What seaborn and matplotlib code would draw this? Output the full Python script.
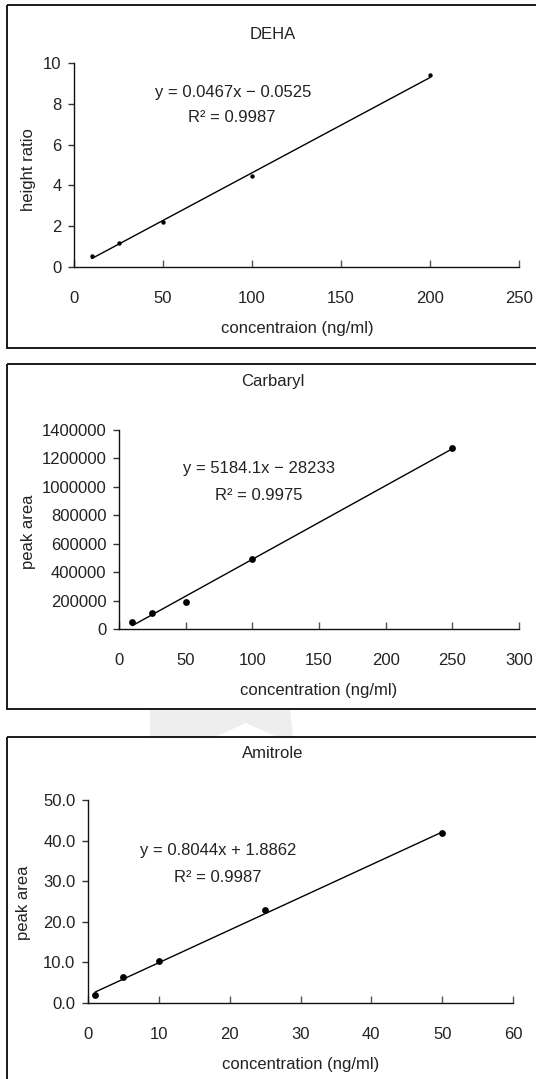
import numpy as np
import pandas as pd
import matplotlib
matplotlib.use("Agg")
import matplotlib.pyplot as plt
import seaborn as sns
from matplotlib.patches import Rectangle, Polygon
from matplotlib.transforms import Affine2D
from matplotlib.ticker import StrMethodFormatter

# ---------------- data ----------------
deha_conc = [10, 25, 50, 100, 200]
deha_ratio = [0.52, 1.18, 2.20, 4.45, 9.40]
deha_fit = [0.0467, -0.0525]

carb_conc = [10, 25, 50, 100, 250]
carb_area = [49000, 112000, 187000, 491000, 1276000]
carb_fit = [5184.1, -28233]

amit_conc = [1, 5, 10, 25, 50]
amit_area = [2.05, 6.48, 10.25, 22.8, 41.9]
amit_fit = [0.8044, 1.8862]

titles = ["DEHA", "Carbaryl", "Amitrole"]
xlabels = ["concentraion (ng/ml)", "concentration (ng/ml)", "concentration (ng/ml)"]
ylabels = ["height ratio", "peak area", "peak area"]
equations = ["y = 0.0467x \u2212 0.0525", "y = 5184.1x \u2212 28233", "y = 0.8044x + 1.8862"]
r2_texts = ["R\u00b2 = 0.9987", "R\u00b2 = 0.9975", "R\u00b2 = 0.9987"]

# ---------------- style ----------------
sns.set_style("ticks")
plt.rcParams['font.family'] = ['Liberation Sans', 'DejaVu Sans']
FS = 12
TXT = '#222222'

W, H = 536, 1079
fig = plt.figure(figsize=(W / 100, H / 100), dpi=100)
fig.patch.set_facecolor('white')
px = Affine2D().scale(1 / W, -1 / H).translate(0, 1) + fig.transFigure

# faint watermark fragment between panels
fig.add_artist(Polygon([(150, 709), (290, 709), (293, 737), (277, 737), (246, 723),
                        (215, 737), (150, 737)], closed=True, transform=px,
                       facecolor='#eeeeee', edgecolor='none', zorder=0))

# panel frames
for (y0, y1) in [(5, 348), (364, 709), (737, 1100)]:
    fig.add_artist(Rectangle((7, y0), 700, y1 - y0, transform=px, fill=False,
                             lw=1.4, ec='#1a1a1a', zorder=1))

panels = [
    dict(x=deha_conc, y=deha_ratio, fit=deha_fit, box=(74, 519, 267, 63),
         xlim=(0, 250), ylim=(0, 10), xt=np.arange(0, 251, 50), yt=np.arange(0, 11, 2),
         yfmt='{x:.0f}', s=10, title_px=(273, 43), eq_px=(233, 93), r2_px=(232, 118),
         xl_px=(297, 328), yl_px=(28, 170)),
    dict(x=carb_conc, y=carb_area, fit=carb_fit, box=(119, 519, 629, 430),
         xlim=(0, 300), ylim=(0, 1400000), xt=np.arange(0, 301, 50),
         yt=np.arange(0, 1400001, 200000), yfmt='{x:.0f}', s=24,
         title_px=(273, 390), eq_px=(259, 468), r2_px=(259, 495),
         xl_px=(319, 690), yl_px=(28, 532)),
    dict(x=amit_conc, y=amit_area, fit=amit_fit, box=(88, 513, 1003, 800),
         xlim=(0, 60), ylim=(0, 50), xt=np.arange(0, 61, 10), yt=np.arange(0, 51, 10),
         yfmt='{x:.1f}', s=24, title_px=(273, 762), eq_px=(218, 850), r2_px=(218, 877),
         xl_px=(301, 1065), yl_px=(24, 903)),
]

for i, p in enumerate(panels):
    l, r, b, t = p['box']
    ax = fig.add_axes([l / W, 1 - b / H, (r - l) / W, (b - t) / H])
    ax.set_facecolor('none')
    xs = np.array([min(p['x']), max(p['x'])], dtype=float)
    ys = p['fit'][0] * xs + p['fit'][1]
    sns.lineplot(x=xs, y=ys, ax=ax, color='black', lw=1.0, zorder=2)
    sns.scatterplot(x=p['x'], y=p['y'], ax=ax, color='black', s=p['s'],
                    edgecolor='black', linewidth=0, zorder=3, clip_on=False)
    ax.set_xlim(*p['xlim'])
    ax.set_ylim(*p['ylim'])
    ax.set_xticks(p['xt'])
    ax.set_yticks(p['yt'])
    ax.yaxis.set_major_formatter(StrMethodFormatter(p['yfmt']))
    sns.despine(ax=ax)
    for sp in ['left', 'bottom']:
        ax.spines[sp].set_linewidth(1.0)
        ax.spines[sp].set_color('#111111')
    ax.tick_params(axis='x', direction='in', length=5, width=1, color='#555555',
                   pad=17, labelsize=FS, labelcolor=TXT)
    ax.tick_params(axis='y', direction='out', length=4, width=1, color='#333333',
                   pad=5, labelsize=FS, labelcolor=TXT)
    # title
    tx = (p['title_px'][0] - l) / (r - l)
    ty = (b - p['title_px'][1]) / (b - t)
    ax.set_title(titles[i], x=tx, y=ty, va='center', fontsize=FS, color=TXT)
    # axis labels
    ax.set_xlabel(xlabels[i], fontsize=FS, color=TXT)
    ax.xaxis.set_label_coords(p['xl_px'][0], p['xl_px'][1], transform=px)
    ax.xaxis.label.set_va('center')
    ax.set_ylabel(ylabels[i], fontsize=FS, color=TXT)
    ax.yaxis.set_label_coords(p['yl_px'][0], p['yl_px'][1], transform=px)
    ax.yaxis.label.set_va('center')
    # equation text
    ax.text(p['eq_px'][0], p['eq_px'][1], equations[i], transform=px, ha='center',
            va='center', fontsize=FS, color=TXT)
    ax.text(p['r2_px'][0], p['r2_px'][1], r2_texts[i], transform=px, ha='center',
            va='center', fontsize=FS, color=TXT)

fig.savefig("out.png", dpi=100, facecolor='white')
